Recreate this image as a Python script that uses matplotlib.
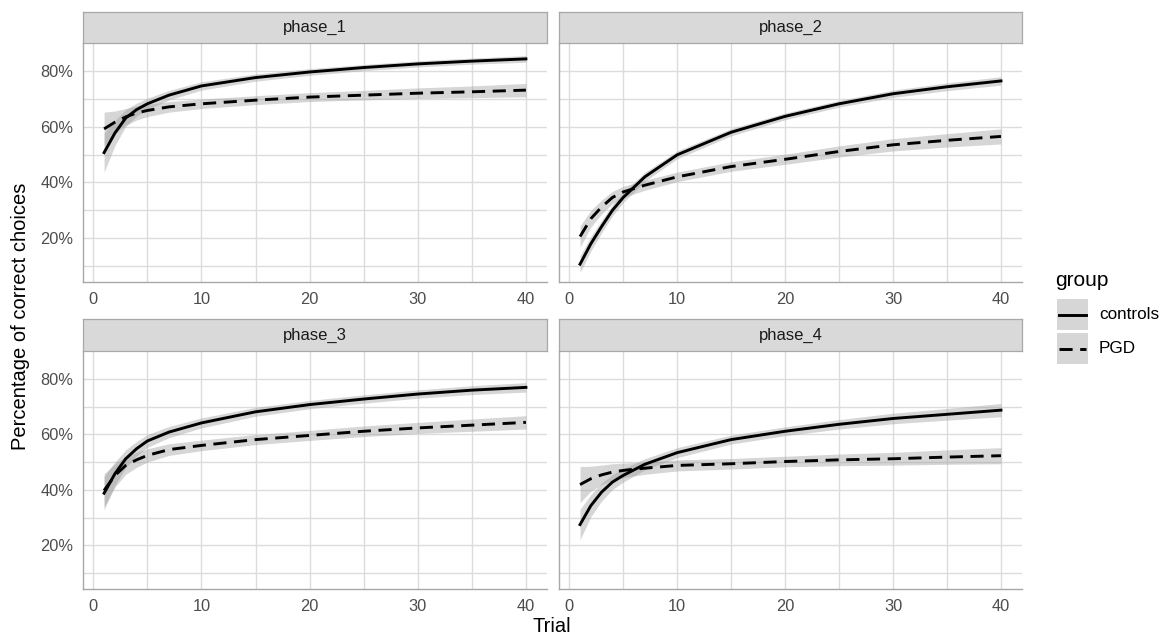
import matplotlib.pyplot as plt
import numpy as np
from matplotlib.lines import Line2D
from matplotlib.patches import Rectangle

plt.rcParams["font.family"] = ["Liberation Sans", "DejaVu Sans"]

# values (percent correct, fitted curve + CI half-width)
trials = [1, 2, 3, 4, 5, 7, 10, 15, 20, 25, 30, 35, 40]
phases = ["phase_1", "phase_2", "phase_3", "phase_4"]

controls_fit = {
    "phase_1": [50.7, 57.7, 63.1, 66.1, 68.2, 71.3, 74.6, 77.6, 79.6, 81.2, 82.5, 83.5, 84.3],
    "phase_2": [10.7, 18.0, 24.2, 30.0, 34.6, 42.0, 49.9, 58.0, 63.7, 68.2, 71.8, 74.3, 76.4],
    "phase_3": [38.8, 45.8, 51.2, 54.8, 57.6, 60.8, 64.1, 68.1, 70.7, 72.7, 74.5, 75.9, 76.9],
    "phase_4": [27.5, 34.3, 39.2, 42.8, 45.2, 49.2, 53.4, 58.1, 61.1, 63.6, 65.7, 67.2, 68.7],
}
pgd_fit = {
    "phase_1": [59.2, 61.6, 63.5, 64.9, 65.8, 67.1, 68.2, 69.5, 70.6, 71.3, 72.0, 72.5, 73.1],
    "phase_2": [20.6, 27.0, 31.2, 34.6, 36.6, 39.0, 42.0, 45.7, 48.3, 51.1, 53.5, 55.1, 56.5],
    "phase_3": [39.8, 45.2, 48.8, 50.8, 52.4, 54.5, 56.0, 58.1, 59.6, 61.1, 62.3, 63.3, 64.3],
    "phase_4": [41.9, 44.0, 45.4, 46.4, 47.0, 47.8, 48.8, 49.4, 50.2, 50.8, 51.2, 51.8, 52.3],
}
controls_ci = {
    "phase_1": [7.0, 4.5, 3.0, 2.3, 2.0, 1.7, 1.5, 1.3, 1.2, 1.1, 1.1, 1.1, 1.2],
    "phase_2": [3.0, 2.6, 2.2, 2.0, 1.8, 1.6, 1.4, 1.3, 1.2, 1.2, 1.3, 1.4, 1.5],
    "phase_3": [6.0, 4.2, 3.2, 2.6, 2.3, 2.0, 1.8, 1.6, 1.5, 1.5, 1.5, 1.6, 1.7],
    "phase_4": [5.5, 4.0, 3.2, 2.7, 2.4, 2.0, 1.8, 1.6, 1.6, 1.7, 1.9, 2.1, 2.4],
}
pgd_ci = {
    "phase_1": [6.0, 4.0, 3.0, 2.5, 2.2, 1.9, 1.7, 1.6, 1.6, 1.7, 1.9, 2.1, 2.4],
    "phase_2": [3.8, 3.0, 2.5, 2.2, 2.0, 1.8, 1.7, 1.7, 1.8, 2.0, 2.2, 2.4, 2.7],
    "phase_3": [6.0, 4.2, 3.2, 2.7, 2.4, 2.1, 1.9, 1.8, 1.8, 1.9, 2.0, 2.2, 2.4],
    "phase_4": [6.5, 4.5, 3.5, 3.0, 2.6, 2.2, 2.0, 1.9, 1.9, 2.1, 2.3, 2.6, 2.9],
}
groups = ["controls", "PGD"]

W, H = 1163, 639
GRID = "#dcdcdc"
RIBBON = "#999999"
DASH = (0, (4.5, 2.6))
LW = 2.1


def rect(x0, y0, x1, y1):
    return [x0 / W, 1 - y1 / H, (x1 - x0) / W, (y1 - y0) / H]


fig = plt.figure(figsize=(W / 100, H / 100), dpi=100)

cols = [(83, 547), (559, 1022)]
rows = [((12, 43), (43, 282)), ((319, 351), (351, 589))]

for i, phase in enumerate(phases):
    r, c = divmod(i, 2)
    (sy0, sy1), (py0, py1) = rows[r]
    x0, x1 = cols[c]

    ax = fig.add_axes(rect(x0, py0, x1, py1))
    t = np.array(trials)
    for fit, ci, ls in [(controls_fit, controls_ci, "-"), (pgd_fit, pgd_ci, DASH)]:
        y = np.array(fit[phase])
        e = np.array(ci[phase])
        ax.fill_between(t, y - e, y + e, color=RIBBON, alpha=0.4, lw=0)
        ax.plot(t, y, color="black", lw=LW, linestyle=ls)

    ax.set_xlim(-0.95, 41.95)
    ax.set_ylim(4.3, 90.0)
    ax.set_xticks([0, 10, 20, 30, 40])
    ax.set_xticks([5, 15, 25, 35], minor=True)
    ax.set_yticks([20, 40, 60, 80])
    ax.set_yticks([10, 30, 50, 70], minor=True)
    if c == 0:
        ax.set_yticklabels([f"{v}%" for v in [20, 40, 60, 80]])
    else:
        ax.set_yticklabels([])
    ax.grid(True, which="both", color=GRID, lw=1.0)
    ax.set_axisbelow(True)
    ax.tick_params(which="both", length=0, labelsize=11.8, labelcolor="#4d4d4d")
    ax.tick_params(axis="x", pad=7)
    ax.tick_params(axis="y", pad=7)
    for side in ["top", "right"]:
        ax.spines[side].set_visible(False)
    for side in ["left", "bottom"]:
        ax.spines[side].set_color("#a8a8a8")
        ax.spines[side].set_linewidth(1.0)

    strip = fig.add_axes(rect(x0, sy0, x1, sy1))
    strip.set_facecolor("#d9d9d9")
    strip.set_xticks([])
    strip.set_yticks([])
    for sp in strip.spines.values():
        sp.set_color("#a8a8a8")
        sp.set_linewidth(0.9)
    strip.text(0.5, 0.5, phase, ha="center", va="center", fontsize=12,
               color="#1a1a1a", transform=strip.transAxes)

fig.text(552 / W, 1 - 627 / H, "Trial", ha="center", va="center", fontsize=14.5)
fig.text(21 / W, 1 - 316 / H, "Percentage of correct choices", ha="center",
         va="center", rotation=90, fontsize=14.5)

# legend drawn in pixel coordinates
leg = fig.add_axes([0, 0, 1, 1], facecolor="none")
leg.set_xlim(0, W)
leg.set_ylim(H, 0)
leg.axis("off")
leg.text(1055, 281, "group", ha="left", va="center", fontsize=15)
for k, (name, ls) in enumerate(zip(groups, ["-", DASH])):
    top = 299 + k * 34
    leg.add_patch(Rectangle((1057, top), 31, 31, facecolor=RIBBON, alpha=0.4, lw=0))
    leg.add_line(Line2D([1059, 1086], [top + 15.5, top + 15.5], color="black",
                        lw=LW, linestyle=ls))
    leg.text(1099, top + 15.5, name, ha="left", va="center", fontsize=12.3)

fig.savefig("out.png", dpi=100, facecolor="white")
